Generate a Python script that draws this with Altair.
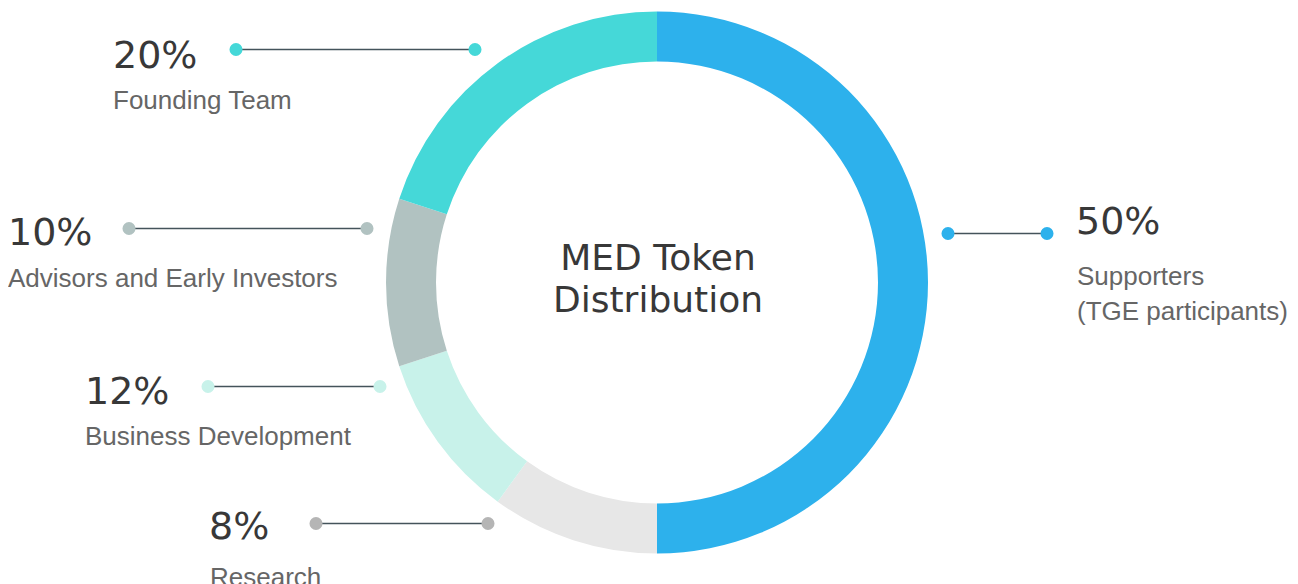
import altair as alt
import pandas as pd

# ---- data ----
names = ["Supporters", "Research", "Business Development",
         "Advisors and Early Investors", "Founding Team"]
# arc sizes as drawn in the picture (ring portions)
arc_shares = [50, 10, 10, 10, 20]
pct_text = ["50%", "8%", "12%", "10%", "20%"]
label_text = ["Supporters\n(TGE participants)", "Research", "Business Development",
              "Advisors and Early Investors", "Founding Team"]
center_title = "MED Token\nDistribution"

# ---- styles ----
seg_colors = ["#2db1ec", "#e7e7e7", "#c8f2ea", "#b1c2c1", "#45d8d8"]
dot_colors = ["#2db1ec", "#b5b5b5", "#c8f2ea", "#b1c2c1", "#45d8d8"]

# ---- layout (page pixel coordinates) ----
M = 8
W, H = 1282, 576
CX, CY = 657, 282.5
R_OUT, R_IN = 271, 221
pct_pos = [(1076, 234), (209, 539), (85, 404), (8, 245), (113, 68)]
lab_pos = [(1077, 285), (210, 586), (85, 445), (8, 287), (113, 109)]
dot_pos = [(948, 1047, 233.5), (316, 488, 523.5), (208, 380, 386.5),
           (129, 367, 228.5), (236, 475, 49.5)]

xs = alt.Scale(domain=[M, M + W], nice=False, zero=False)
ys = alt.Scale(domain=[M, M + H], nice=False, zero=False, reverse=True)

arc_df = pd.DataFrame({"name": names, "share": arc_shares, "ord": list(range(len(names)))})

arc = alt.Chart(arc_df).mark_arc(outerRadius=R_OUT, innerRadius=R_IN).encode(
    theta=alt.Theta("share:Q", stack=True),
    order=alt.Order("ord:Q"),
    color=alt.Color("name:N", scale=alt.Scale(domain=names, range=seg_colors), legend=None),
    x=alt.X(datum=CX, scale=xs, axis=None),
    y=alt.Y(datum=CY, scale=ys, axis=None),
)

rule_df = pd.DataFrame({
    "name": names,
    "x1": [d[0] for d in dot_pos],
    "x2": [d[1] for d in dot_pos],
    "y": [d[2] for d in dot_pos],
})
rules = alt.Chart(rule_df).mark_rule(color="#44535b", strokeWidth=1.3).encode(
    x=alt.X("x1:Q", scale=xs, axis=None),
    x2="x2:Q",
    y=alt.Y("y:Q", scale=ys, axis=None),
)

dot_rows = []
for n, (a, b, yy) in zip(names, dot_pos):
    dot_rows.append({"dname": n, "x": a, "y": yy})
    dot_rows.append({"dname": n, "x": b, "y": yy})
dot_df = pd.DataFrame(dot_rows)
dots = alt.Chart(dot_df).mark_circle(size=170, opacity=1).encode(
    x=alt.X("x:Q", scale=xs, axis=None),
    y=alt.Y("y:Q", scale=ys, axis=None),
    color=alt.Color("dname:N", scale=alt.Scale(domain=names, range=dot_colors), legend=None),
)

pct_df = pd.DataFrame({"t": pct_text, "x": [p[0] for p in pct_pos], "y": [p[1] for p in pct_pos]})
pcts = alt.Chart(pct_df).mark_text(
    align="left", baseline="alphabetic", font="DejaVu Sans", fontSize=38, color="#383838"
).encode(
    x=alt.X("x:Q", scale=xs, axis=None),
    y=alt.Y("y:Q", scale=ys, axis=None),
    text="t:N",
)

lab_df = pd.DataFrame({"t": label_text, "x": [p[0] for p in lab_pos], "y": [p[1] for p in lab_pos]})
labs = alt.Chart(lab_df).mark_text(
    align="left", baseline="alphabetic", font="Liberation Sans", fontSize=26,
    color="#666666", lineBreak="\n", lineHeight=35
).encode(
    x=alt.X("x:Q", scale=xs, axis=None),
    y=alt.Y("y:Q", scale=ys, axis=None),
    text="t:N",
)

title_df = pd.DataFrame({"t": [center_title], "x": [CX + 1], "y": [269.5]})
title = alt.Chart(title_df).mark_text(
    align="center", baseline="alphabetic", font="DejaVu Sans", fontSize=36,
    color="#383838", lineBreak="\n", lineHeight=42
).encode(
    x=alt.X("x:Q", scale=xs, axis=None),
    y=alt.Y("y:Q", scale=ys, axis=None),
    text="t:N",
)

chart = alt.layer(arc, rules, dots, pcts, labs, title).resolve_scale(
    color="independent"
).properties(
    width=W, height=H,
    autosize=alt.AutoSizeParams(type="none"),
    padding=0,
    view=alt.ViewBackground(stroke="transparent", strokeWidth=0, fill="white"),
).configure_view(stroke="transparent", strokeWidth=0).configure(background="white")

chart.save("out.html", embed_options={"renderer": "svg", "actions": False})
